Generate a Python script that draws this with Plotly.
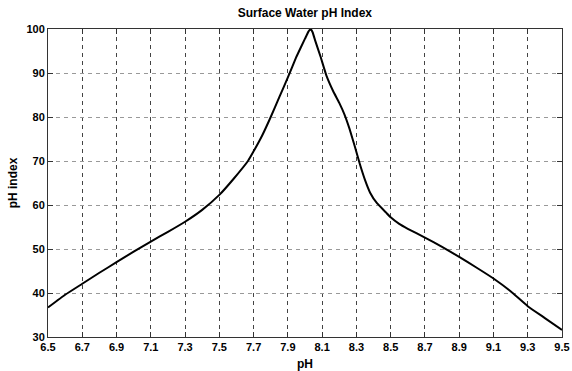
import plotly.graph_objects as go

ph = [6.5, 6.6, 6.7, 6.8, 6.9, 7.0, 7.1, 7.2, 7.3, 7.4, 7.5, 7.58, 7.667, 7.7,
      7.75, 7.8, 7.85, 7.9, 7.95, 8.0, 8.02, 8.033, 8.045, 8.06, 8.09, 8.125,
      8.164, 8.2, 8.23, 8.26, 8.29, 8.32, 8.35, 8.38, 8.42, 8.475, 8.5, 8.55, 8.6,
      8.7, 8.8, 8.9, 9.0, 9.1, 9.2, 9.3, 9.4, 9.5]
index = [36.7, 39.6, 42.1, 44.6, 47.0, 49.4, 51.7, 53.9, 56.2, 58.9, 62.3, 65.8,
         70.0, 72.2, 75.8, 80.0, 84.5, 89.0, 93.7, 97.8, 99.4, 100.0, 99.2, 97.3,
         93.8, 89.4, 85.9, 83.2, 80.6, 77.3, 73.4, 69.3, 65.7, 62.8, 60.4, 58.2,
         57.2, 55.7, 54.6, 52.6, 50.5, 48.2, 45.8, 43.3, 40.4, 37.0, 34.3, 31.6]
xticks = [6.5, 6.7, 6.9, 7.1, 7.3, 7.5, 7.7, 7.9, 8.1, 8.3, 8.5, 8.7, 8.9, 9.1, 9.3, 9.5]
yticks = [30, 40, 50, 60, 70, 80, 90, 100]

font = "Liberation Sans, Arial, sans-serif"

fig = go.Figure()
fig.add_trace(go.Scatter(x=ph, y=index, mode="lines",
                         line=dict(color="black", width=2, shape="spline", smoothing=0.3),
                         showlegend=False, hoverinfo="skip"))

fig.update_layout(
    width=572, height=371,
    margin=dict(l=48, r=10, t=29, b=34),
    paper_bgcolor="white", plot_bgcolor="white",
    title=dict(text="Surface Water pH Index", x=0.533, xanchor="center",
               y=1 - 13 / 371, yanchor="middle",
               font=dict(family=font, size=12, color="black", weight="bold")),
    xaxis=dict(range=[6.5, 9.5], tickvals=xticks, ticktext=[f"{v:.1f}" for v in xticks],
               showgrid=True, gridcolor="#444", griddash="4px,4px", gridwidth=1,
               showline=True, linecolor="#333", linewidth=1, mirror="ticks",
               ticks="inside", ticklen=5, tickcolor="#333", automargin=False,
               tickfont=dict(family=font, size=11, color="black", weight="bold"),
               title=dict(text="pH", standoff=8,
                          font=dict(family=font, size=12, color="black", weight="bold")),
               zeroline=False),
    yaxis=dict(range=[30, 100], tickvals=yticks,
               showgrid=True, gridcolor="#999", griddash="4px,4px", gridwidth=1,
               showline=True, linecolor="#333", linewidth=1, mirror="ticks",
               ticks="inside", ticklen=5, tickcolor="#333", automargin=False,
               tickfont=dict(family=font, size=11, color="black", weight="bold"),
               title=dict(text="pH index", standoff=6,
                          font=dict(family=font, size=12, color="black", weight="bold")),
               zeroline=False),
)

fig.write_html("out.html")
